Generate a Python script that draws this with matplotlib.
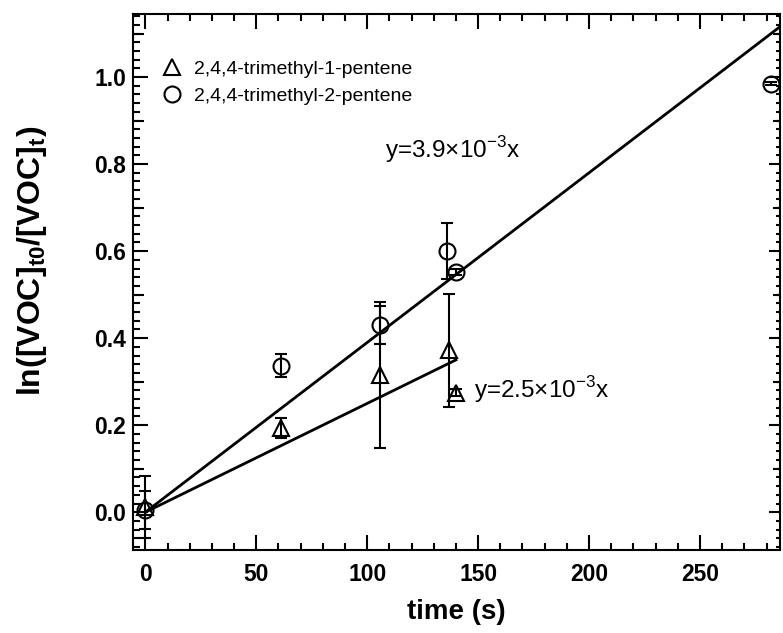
import numpy as np
import matplotlib
matplotlib.use("Agg")
import matplotlib.pyplot as plt

plt.rcParams['font.family'] = ['Liberation Sans', 'DejaVu Sans']
plt.rcParams['mathtext.fontset'] = 'custom'
plt.rcParams['mathtext.rm'] = 'Liberation Sans'
plt.rcParams['mathtext.bf'] = 'Liberation Sans:bold'

# 2,4,4-trimethyl-1-pentene (triangles)
t1 = [0, 61, 106, 137, 140]
y1 = [0.012, 0.193, 0.315, 0.372, 0.274]
e1 = [0.072, 0.023, 0.167, 0.13, 0.008]

# 2,4,4-trimethyl-2-pentene (circles)
t2 = [0, 61, 106, 136, 140, 282]
y2 = [0.005, 0.337, 0.43, 0.60, 0.552, 0.985]
e2 = [0.043, 0.026, 0.044, 0.065, 0.006, 0.004]

k1 = 2.5e-3
k2 = 3.9e-3
fit1_x = [0, 140]
fit2_x = [0, 290]

fig = plt.figure(figsize=(7.83, 6.33), dpi=100)
ax = fig.add_axes([0.170, 0.131, 0.826, 0.847])

ax.errorbar(t1, y1, yerr=e1, fmt='none', ecolor='black', elinewidth=1.5, capsize=4.5, capthick=1.5)
ax.errorbar(t2, y2, yerr=e2, fmt='none', ecolor='black', elinewidth=1.5, capsize=4.5, capthick=1.5)
ax.plot(t1, y1, linestyle='none', marker='^', markersize=12, markerfacecolor='none',
        markeredgecolor='black', markeredgewidth=1.5, label='2,4,4-trimethyl-1-pentene')
ax.plot(t2, y2, linestyle='none', marker='o', markersize=11.5, markerfacecolor='none',
        markeredgecolor='black', markeredgewidth=1.5, label='2,4,4-trimethyl-2-pentene')

ax.plot(fit1_x, [k1 * x for x in fit1_x], color='black', lw=2)
ax.plot(fit2_x, [k2 * x for x in fit2_x], color='black', lw=2)

ax.text(108, 0.815, r'y=3.9×10$^{\mathrm{-3}}$x', fontsize=17.5)
ax.text(148, 0.262, r'y=2.5×10$^{\mathrm{-3}}$x', fontsize=17.5)

ax.set_xlim(-5.5, 286)
ax.set_ylim(-0.087, 1.145)

ax.set_xticks(np.arange(0, 251, 50))
ax.set_xticks(np.arange(0, 286, 10), minor=True)
ax.set_yticks(np.arange(0, 1.01, 0.2))
ax.set_yticks(np.arange(-0.08, 1.15, 0.02), minor=True)
ax.set_yticklabels(['0.0', '0.2', '0.4', '0.6', '0.8', '1.0'])

ax.tick_params(which='major', direction='in', length=11, width=1.5, top=True, right=False,
               labelsize=16.5)
ax.tick_params(axis='y', which='major', pad=5)
ax.tick_params(axis='x', which='major', pad=9)
ax.tick_params(which='minor', direction='in', length=5, width=1.5, top=True, right=False)
for lab in ax.get_xticklabels() + ax.get_yticklabels():
    lab.set_fontweight('bold')

# medium ticks at the 0.1 positions on the left
sec = ax.secondary_yaxis('left')
sec.set_yticks(np.arange(0.1, 1.15, 0.2))
sec.tick_params(direction='in', length=8, width=1.5, labelleft=False)
sec.spines['left'].set_visible(False)

# shorter ticks on the right side
rmaj = ax.secondary_yaxis('right')
rmaj.set_yticks(np.arange(0, 1.01, 0.2))
rmaj.set_yticks(np.arange(-0.08, 1.15, 0.02), minor=True)
rmaj.tick_params(which='major', direction='in', length=8, width=1.5, labelright=False)
rmaj.tick_params(which='minor', direction='in', length=3, width=1.5)
rmaj.spines['right'].set_visible(False)
rmid = ax.secondary_yaxis('right')
rmid.set_yticks(np.arange(0.1, 1.15, 0.2))
rmid.tick_params(direction='in', length=5, width=1.5, labelright=False)
rmid.spines['right'].set_visible(False)

for s in ax.spines.values():
    s.set_linewidth(1.5)

ax.set_xlabel('time (s)', fontsize=20, fontweight='bold', labelpad=10)
ax.set_ylabel(r'ln([VOC]$_{\mathbf{t0}}$/[VOC]$_{\mathbf{t}}$)', fontsize=23, fontweight='bold')
ax.yaxis.set_label_coords(-0.13, 0.54)

ax.legend(loc='upper left', frameon=False, fontsize=14, handletextpad=0.5,
          borderaxespad=0.6, labelspacing=0.5, handlelength=1.3,
          bbox_to_anchor=(0.01, 0.95))

fig.savefig('out.png', dpi=100)
